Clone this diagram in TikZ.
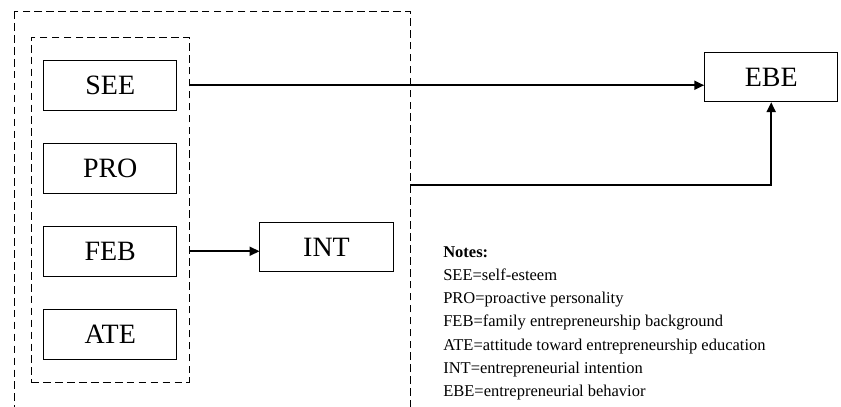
\documentclass[tikz,border=0pt]{standalone}
\usepackage{fontspec}
\setmainfont{Liberation Serif}
\usetikzlibrary{arrows.meta,fit}

\begin{document}
\begin{tikzpicture}[
	varbox/.style={draw, line width=0.7pt, minimum width=3.33cm,
		minimum height=1.24cm, font=\fontsize{19.9}{24}\selectfont},
	grpbox/.style={draw, dash pattern=on 5.5pt off 3pt, line width=0.7pt},
	pfeil/.style={-{Triangle[length=7pt,width=6.5pt]}, line width=1.1pt}
	]
	\clip (0,0) rectangle (21.025,-10.15);
	% Vier Variablen
	\node[varbox] (SEE) at (2.756,-2.131) {SEE};
	\node[varbox] (PRO) at (2.756,-4.206) {PRO};
	\node[varbox] (FEB) at (2.756,-6.281) {FEB};
	\node[varbox] (ATE) at (2.756,-8.356) {ATE};
	\node[grpbox, inner xsep=0.3cm, inner ysep=0.57cm, fit=(SEE)(ATE)] (vars) {};
	% Aeussere Gruppe
	\draw[grpbox] (0.3625,-0.275) rectangle (10.25,-10.6);
	\coordinate (outR) at (10.25,-4.625);
	% Mediator und Ergebnis
	\node[varbox] (INT) at (8.1625,-6.175) {INT};
	\node[varbox] (EBE) at (19.28,-1.925) {EBE};
	\draw[pfeil] (SEE -| vars.east) -- (SEE -| EBE.west);
	\draw[pfeil] (FEB -| vars.east) -- (FEB -| INT.west);
	\draw[pfeil] (outR) -| (EBE.south);
	% Legende
	\node[anchor=north west, inner sep=0pt, align=left,
	font=\fontsize{11.74}{16.57}\selectfont] (notes) at (11.075,-6.15) {
		\textbf{Notes:}\\
		SEE=self-esteem\\
		PRO=proactive personality\\
		FEB=family entrepreneurship background\\
		ATE=attitude toward entrepreneurship education\\
		INT=entrepreneurial intention\\
		EBE=entrepreneurial behavior
	};
\end{tikzpicture}
\end{document}
